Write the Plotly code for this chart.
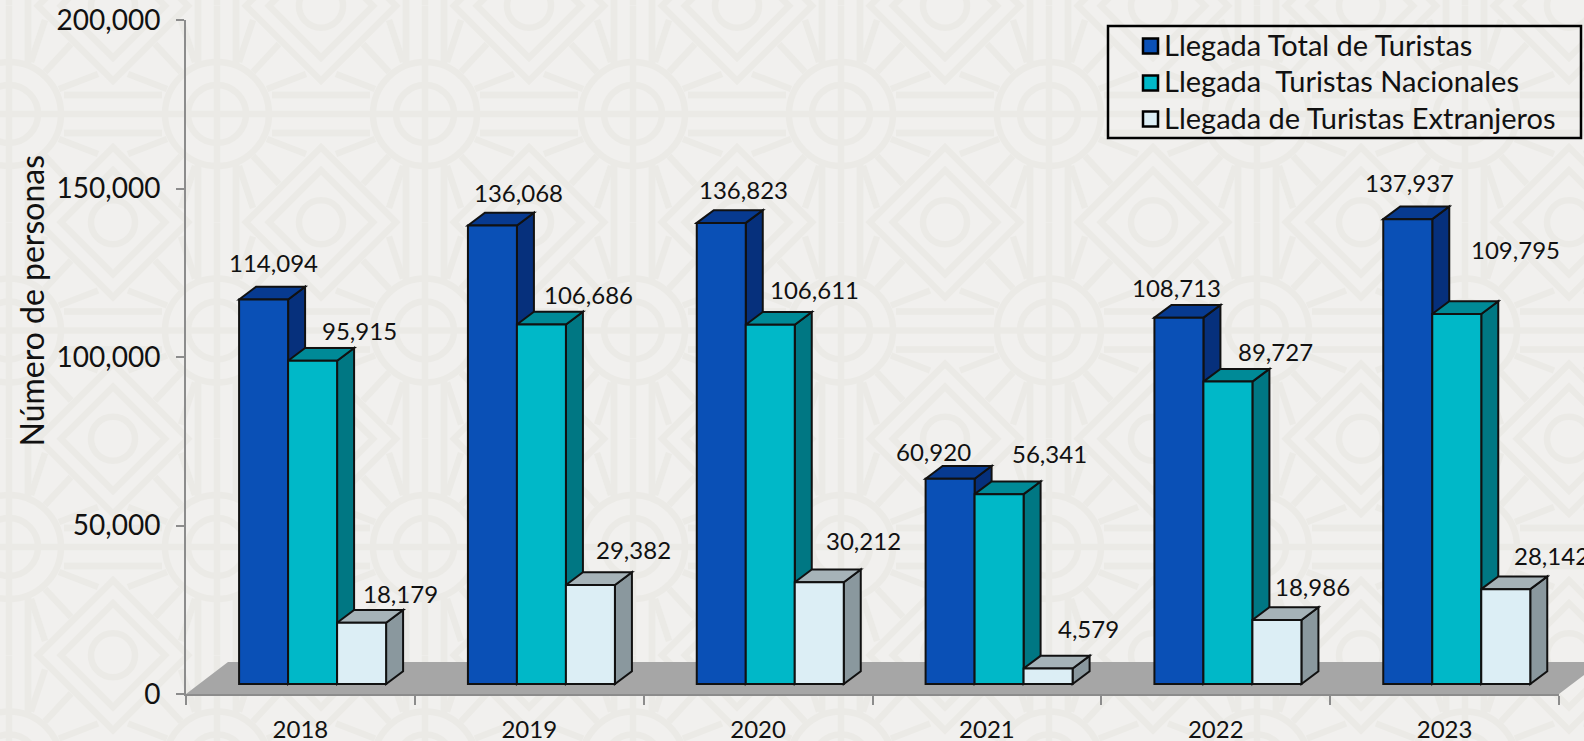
import base64
import plotly.graph_objects as go

YEARS = ["2018", "2019", "2020", "2021", "2022", "2023"]
TOTAL = [114094, 136068, 136823, 60920, 108713, 137937]
NACIONALES = [95915, 106686, 106611, 56341, 89727, 109795]
EXTRANJEROS = [18179, 29382, 30212, 4579, 18986, 28142]
SERIES_NAMES = ["Llegada Total de Turistas", "Llegada\u00a0\u00a0Turistas Nacionales", "Llegada de Turistas Extranjeros"]
Y_TICKS = [0, 50000, 100000, 150000, 200000]

FRONT = ["#0a50b6", "#00b8c8", "#dceef5"]
SIDE = ["#06307c", "#007783", "#8a989e"]
TOP = ["#073a90", "#008a97", "#a6b3b8"]
FONT = "Lato, 'Open Sans', sans-serif"
INK = "#111111"

# page layout in pixels
W, H = 1584, 741
L, R, T, B = 186, 25, 20, 47
PW, PH = W - L - R, H - T - B
PX_X = 1 / (PW / 6)          # data units per pixel, x
PX_Y = 200000 / PH           # data units per pixel, y
BAR_W = 49 * PX_X
FIRST = -0.268
LIFT = 10 * PX_Y
DX, DY = 17 * PX_X, 12.7 * PX_Y

# where each value label sits on the page (pixel centres), per year and series
LABEL_CENTRES = [
    [(273, 265), (359, 332.5), (400, 595.5)],
    [(519, 195), (589, 296), (634, 551.5)],
    [(743, 191.5), (814, 291.5), (863, 542.5)],
    [(933, 453), (1049, 455.5), (1088, 630)],
    [(1177, 289.5), (1276, 353.5), (1313, 588)],
    [(1409, 185), (1515, 252), (1551, 558)],
]
LABEL_BASE_FIX = 2   # Lato digits sit below the middle of their text box


def px_x(x):
    return L + (x + 0.5) / PX_X


def px_y(y):
    return T + PH - y / PX_Y


def paper_x(px):
    return (px - L) / PW


def paper_y(px):
    return 1 - (px - T) / PH


def background_svg():
    ink = "#ebeae6"
    cell = []
    cell.append('<circle r="52"/><circle r="29"/>')
    cell.append('<path d="M0,-108V108M-104,0H104"/>')
    for s in (-1, 1):
        cell.append(f'<path d="M{s*19},-48V-168M{s*19},48V168M55,{s*19}H153M-55,{s*19}H-153"/>')
    for sx in (-1, 1):
        for sy in (-1, 1):
            cell.append(f'<path d="M{sx*36},{sy*42}L{sx*62},{sy*70}M{sx*50},{sy*25}L{sx*89},{sy*40}M{sx*22},{sy*52}L{sx*36},{sy*94}"/>')
    diamond = (
        '<g transform="translate(104,108.25)"><path d="M0,-75L75,0L0,75L-75,0Z"/>'
        '<path d="M0,-52L52,0L0,52L-52,0Z"/><circle r="22"/></g>'
    )
    body = ""
    for k in range(-1, 9):
        for m in range(-1, 5):
            body += f'<g transform="translate({9 + 208 * k},{114 + 216.5 * m})">' + "".join(cell) + diamond + "</g>"
    svg = (
        f'<svg xmlns="http://www.w3.org/2000/svg" width="{W}" height="{H}" viewBox="0 0 {W} {H}">'
        f'<rect width="{W}" height="{H}" fill="#f1f0ee"/>'
        f'<g fill="none" stroke="{ink}" stroke-width="6.5">{body}</g></svg>'
    )
    return "data:image/svg+xml;base64," + base64.b64encode(svg.encode()).decode()


fig = go.Figure()
values = [TOTAL, NACIONALES, EXTRANJEROS]
positions = list(range(len(YEARS)))
shapes = []

# floor of the 3D box
fx, fy = 42 / PW, 32 / PH
shapes.append(dict(type="path", xref="paper", yref="paper", layer="below",
                   path=f"M0,0L{fx},{fy}L{1 + fx},{fy}L1,0Z",
                   fillcolor="#a6a6a6", line=dict(width=0)))

annotations = []
for j, (name, vals) in enumerate(zip(SERIES_NAMES, values)):
    offset = FIRST + j * BAR_W
    fig.add_trace(go.Bar(
        x=positions, y=vals, base=LIFT, width=BAR_W, offset=offset, name=name,
        marker=dict(color=FRONT[j], line=dict(color=INK, width=2)),
    ))
    for i, v in enumerate(vals):
        x0, x1 = i + offset, i + offset + BAR_W
        t = LIFT + v
        shapes.append(dict(type="path", xref="x", yref="y", layer="below",
                           path=f"M{x1},{t}L{x1 + DX},{t + DY}L{x1 + DX},{LIFT + DY}L{x1},{LIFT}Z",
                           fillcolor=SIDE[j], line=dict(color=INK, width=2)))
        shapes.append(dict(type="path", xref="x", yref="y", layer="below",
                           path=f"M{x0},{t}L{x0 + DX},{t + DY}L{x1 + DX},{t + DY}L{x1},{t}Z",
                           fillcolor=TOP[j], line=dict(color=INK, width=2)))
        cx, cy = LABEL_CENTRES[i][j]
        xc = (x0 + x1) / 2
        annotations.append(dict(
            x=xc, y=t, xref="x", yref="y", text=f"{v:,}", showarrow=False,
            xshift=cx - px_x(xc), yshift=px_y(t) - cy + LABEL_BASE_FIX,
            xanchor="center", yanchor="middle",
            font=dict(family=FONT, size=24, color=INK),
        ))

# legend frame, swatches and texts
shapes.append(dict(type="rect", xref="paper", yref="paper", layer="above",
                   x0=paper_x(1108), x1=paper_x(1581), y0=paper_y(138), y1=paper_y(26),
                   line=dict(color="#000000", width=2.5)))
for j, (name, row_y) in enumerate(zip(SERIES_NAMES, [46, 83, 119])):
    shapes.append(dict(type="rect", xref="paper", yref="paper", layer="above",
                       x0=paper_x(1143), x1=paper_x(1158),
                       y0=paper_y(row_y + 7.5), y1=paper_y(row_y - 7.5),
                       fillcolor=FRONT[j], line=dict(color="#000000", width=2.5)))
    annotations.append(dict(
        x=paper_x(1162), y=paper_y(row_y - 2), xref="paper", yref="paper", text=name,
        showarrow=False, xanchor="left", yanchor="middle",
        font=dict(family=FONT, size=29, color=INK),
    ))

# value-axis title, centred on the reference's position
annotations.append(dict(
    x=paper_x(31), y=paper_y(300.5), xref="paper", yref="paper", text="Número de personas",
    showarrow=False, textangle=-90, xanchor="center", yanchor="middle",
    font=dict(family=FONT, size=32, color=INK),
))

fig.update_layout(
    width=W, height=H, margin=dict(l=L, r=R, t=T, b=B, autoexpand=False),
    paper_bgcolor="#f1f0ee", plot_bgcolor="rgba(0,0,0,0)",
    showlegend=False, barmode="overlay",
    font=dict(family=FONT, color=INK),
    shapes=shapes, annotations=annotations,
    images=[dict(source=background_svg(), xref="paper", yref="paper",
                 x=-L / PW, y=1 + T / PH, sizex=W / PW, sizey=H / PH,
                 xanchor="left", yanchor="top", sizing="stretch", layer="below")],
    xaxis=dict(
        range=[-0.5, 5.5], tickmode="array", tickvals=positions, ticktext=YEARS,
        ticks="", showgrid=False, zeroline=False, showline=True,
        linecolor="#8c8c8c", linewidth=2,
        minor=dict(ticks="outside", tick0=-0.5, dtick=1, ticklen=9, tickwidth=2,
                   tickcolor="#8c8c8c", showgrid=False),
        tickfont=dict(family=FONT, size=24, color=INK), ticklabelstandoff=13,
    ),
    yaxis=dict(
        range=[0, 200000], tickmode="array", tickvals=Y_TICKS, tickformat=",",
        ticks="outside", ticklen=8, tickwidth=2, tickcolor="#8c8c8c",
        showgrid=False, zeroline=False, showline=True, linecolor="#8c8c8c", linewidth=2,
        tickfont=dict(family=FONT, size=28, color=INK), ticklabelstandoff=10,
    ),
)

fig.write_html("out.html", config=dict(displayModeBar=False),
               post_script="document.body.style.margin='0';document.body.style.overflow='hidden';")
